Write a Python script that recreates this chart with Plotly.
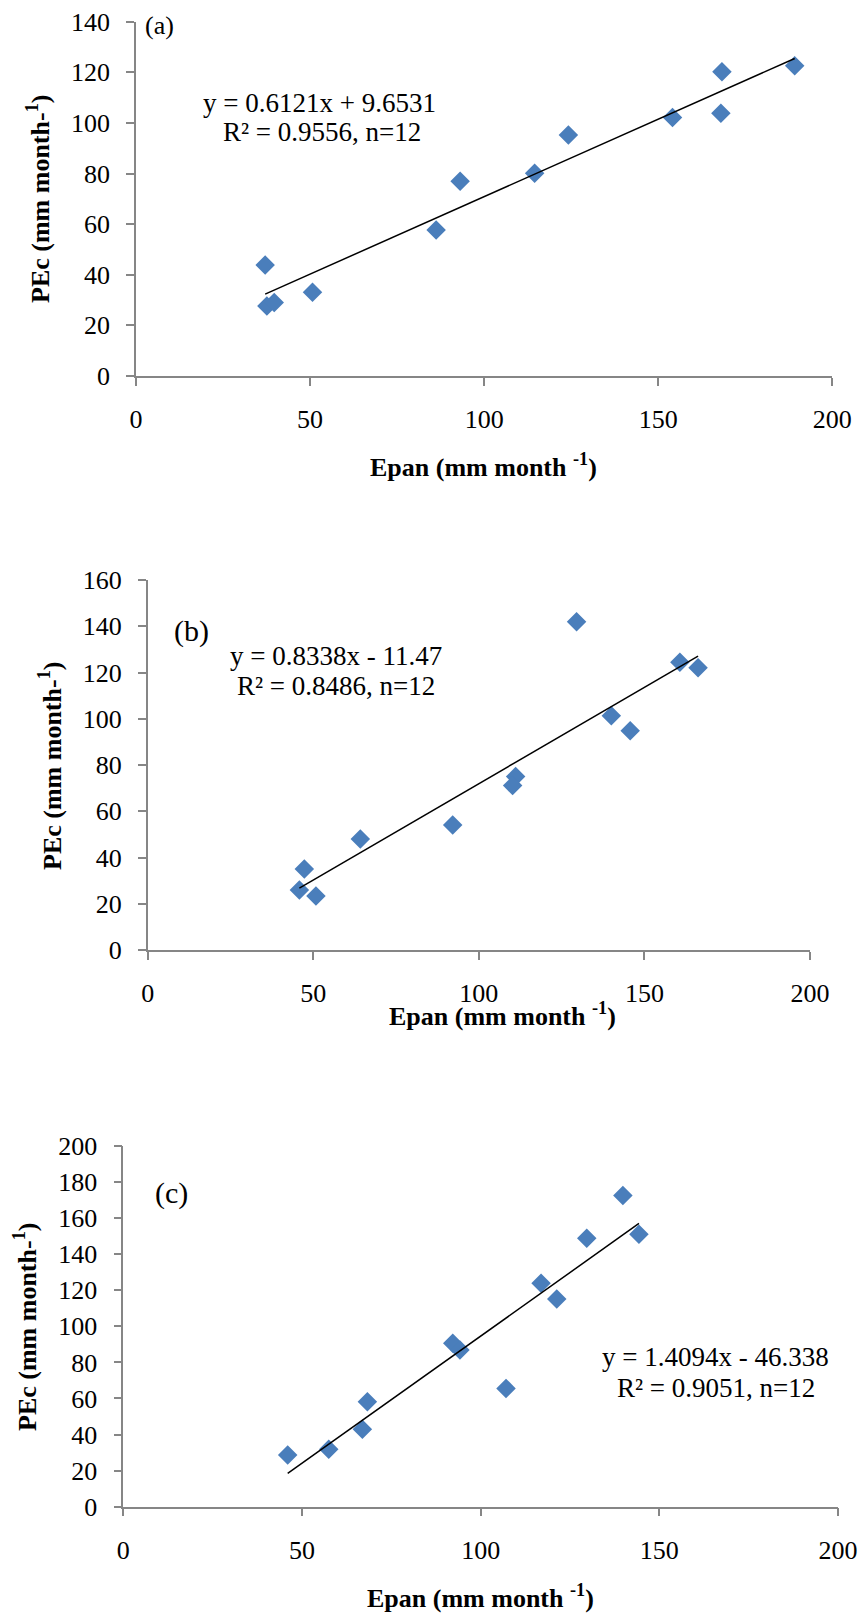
import plotly.graph_objects as go

# ---- data ----
a_epan = [37.1, 37.6, 39.7, 50.7, 86.2, 93.1, 114.5, 124.2, 154.1, 168.3, 168.0, 189.2]
a_pec = [43.9, 27.7, 29.0, 33.1, 57.7, 77.0, 80.1, 95.2, 102.1, 120.2, 103.8, 122.6]
a_slope, a_intercept = 0.6121, 9.6531

b_epan = [47.3, 45.8, 50.8, 64.2, 92.1, 111.1, 110.2, 129.5, 140.0, 145.7, 160.7, 166.2]
b_pec = [35.0, 25.9, 23.4, 48.0, 54.1, 75.0, 71.1, 142.0, 101.3, 94.8, 124.4, 122.1]
b_slope, b_intercept = 0.8338, -11.47

c_epan = [46.0, 57.5, 66.9, 68.3, 92.2, 94.2, 107.1, 116.9, 121.3, 129.7, 139.8, 144.3]
c_pec = [28.7, 31.8, 42.9, 58.2, 90.6, 86.9, 65.6, 123.9, 115.2, 148.8, 172.5, 151.0]
c_slope, c_intercept = 1.4094, -46.338

panel_labels = ["(a)", "(b)", "(c)"]
eq_lines = [
    ["y = 0.6121x + 9.6531", "R² = 0.9556, n=12"],
    ["y = 0.8338x - 11.47", "R² = 0.8486, n=12"],
    ["y = 1.4094x - 46.338", "R² = 0.9051, n=12"],
]
y_ranges = [140, 160, 200]
x_ticks = [0, 50, 100, 150, 200]

W, H = 859, 1618
SERIF = "Liberation Serif"
BLUE = "#4A7EBB"
AXC = "#868686"

def px(x):
    return x / W

def py(y):
    return 1 - y / H

# plot areas in pixels: (left, right, top, bottom)
areas = [(136, 832.3, 21.7, 376), (147.7, 810, 580, 950), (123.3, 838, 1146, 1506.7)]

fig = go.Figure()
datasets = [(a_epan, a_pec, a_slope, a_intercept),
            (b_epan, b_pec, b_slope, b_intercept),
            (c_epan, c_pec, c_slope, c_intercept)]

layout = dict(
    width=W, height=H, margin=dict(l=0, r=0, t=0, b=0, autoexpand=False),
    paper_bgcolor="white", plot_bgcolor="white", showlegend=False,
)

for i, ((xs, ys, m, b), (l, r, t, bt), ymax) in enumerate(zip(datasets, areas, y_ranges)):
    sfx = "" if i == 0 else str(i + 1)
    xa, ya = "x" + sfx, "y" + sfx
    fig.add_trace(go.Scatter(x=xs, y=ys, mode="markers", xaxis=xa, yaxis=ya,
                             cliponaxis=False,
                             marker=dict(symbol="diamond", size=15, color=BLUE,
                                         line=dict(width=0))))
    x0, x1 = min(xs), max(xs)
    fig.add_trace(go.Scatter(x=[x0, x1], y=[m * x0 + b, m * x1 + b], mode="lines",
                             xaxis=xa, yaxis=ya, line=dict(color="black", width=1.5)))
    common = dict(showline=True, linecolor=AXC, linewidth=1.5, ticks="outside",
                  ticklen=8, tickwidth=1.5, tickcolor=AXC, showgrid=False, zeroline=False,
                  automargin=False,
                  tickfont=dict(family=SERIF, size=26, color="black"))
    layout["xaxis" + sfx] = dict(domain=[px(l), px(r)], anchor=ya, range=[0, 200],
                                 tickvals=x_ticks, ticklabelstandoff=11, **common)
    layout["yaxis" + sfx] = dict(domain=[py(bt), py(t)], anchor=xa, range=[0, ymax],
                                 dtick=20, tick0=0, ticklabelstandoff=11, **common)

fig.update_layout(**layout)

ann = []
def add(text, x, y, size, angle=0):
    ann.append(dict(text=text, x=px(x), y=py(y), xref="paper", yref="paper",
                    xanchor="center", yanchor="middle", showarrow=False, textangle=angle,
                    font=dict(family=SERIF, size=size, color="black")))

# panel labels
add(panel_labels[0], 159.5, 26, 26)
add(panel_labels[1], 191.7, 630.5, 30)
add(panel_labels[2], 171.5, 1193, 30)

# equations
eq_pos = [((319, 103), (321.7, 132)), ((335.5, 656), (335.5, 686)), ((715.7, 1357), (715.7, 1388))]
for lines, (p1, p2) in zip(eq_lines, eq_pos):
    add(lines[0], p1[0], p1[1], 27)
    add(lines[1], p2[0], p2[1], 27)

# axis titles
xt = "<b>Epan (mm month <sup>-1</sup>)</b>"
yt = "<b>PEc (mm month-<sup>1</sup>)</b>"
add(xt, 483, 466, 26)
add(xt, 502.5, 1014, 26)
add(xt, 480, 1596, 26)
add(yt, 38, 199, 26, -90)
add(yt, 50, 766, 26, -90)
add(yt, 25, 1327, 26, -90)

fig.update_layout(annotations=ann)
fig.write_html("out.html", config={"displayModeBar": False},
               post_script="document.body.style.margin='0';document.body.style.overflow='hidden';")
